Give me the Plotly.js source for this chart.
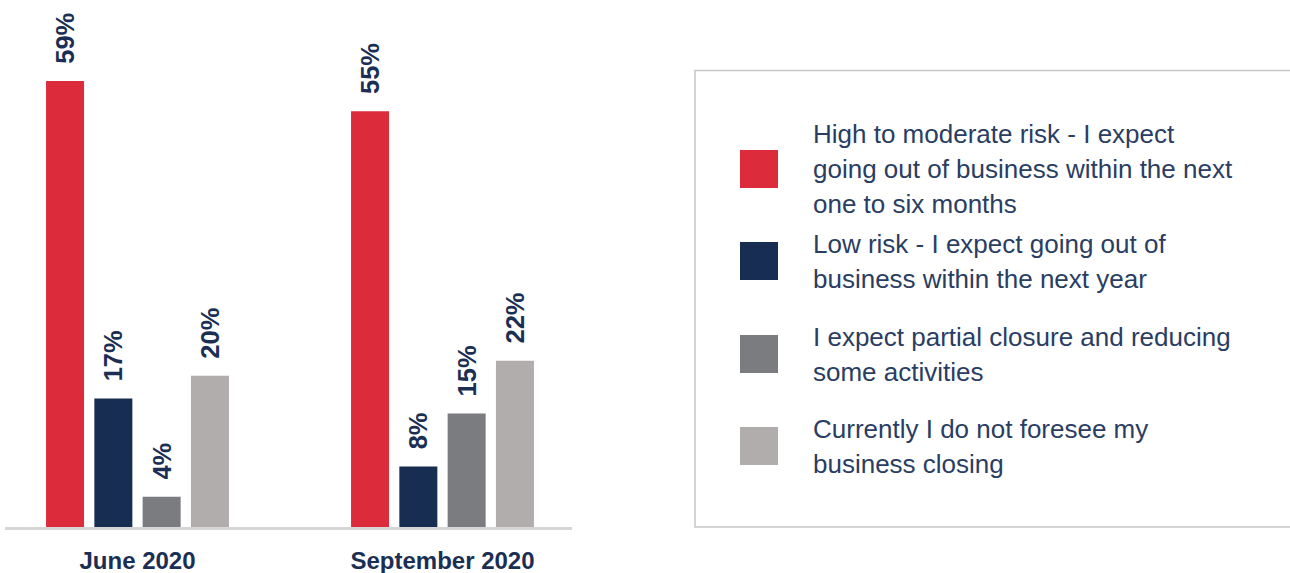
<!DOCTYPE html>
<html>
<head>
<meta charset="utf-8">
<script src="https://cdn.plot.ly/plotly-3.0.1.min.js"></script>
<style>html,body{margin:0;padding:0;background:#fff;}#chart{width:1290px;height:573px;}</style>
</head>
<body>
<div id="chart"></div>
<script>
// ---- data ----
const categories = ["June 2020", "September 2020"];
const seriesNames = [
  "High to moderate risk - I expect<br>going out of business within the next<br>one to six months",
  "Low risk - I expect going out of<br>business within the next year",
  "I expect partial closure and reducing<br>some activities",
  "Currently I do not foresee my<br>business closing"
];
const highRisk = [59, 55];
const lowRisk = [17, 8];
const partialClosure = [4, 15];
const noClosure = [20, 22];
const seriesColors = ["#dc2b3b", "#172d52", "#7b7c80", "#b0adac"];

const seriesValues = [highRisk, lowRisk, partialClosure, noClosure];
const W = 1290, H = 573;
const navy = "#1b2e54";
const font = "'Liberation Sans', Arial, Helvetica, sans-serif";

const traces = seriesValues.map((vals, i) => ({
  type: "bar",
  x: categories,
  y: vals,
  name: seriesNames[i],
  marker: {color: seriesColors[i]},
  text: vals.map(v => "\u00a0\u00a0" + v + "%"),
  textposition: "outside",
  textangle: -90,
  constraintext: "none",
  cliponaxis: false,
  textfont: {family: font, size: 25.5, color: navy, weight: "bold"},
  hoverinfo: "skip",
  showlegend: false
}));

// custom legend (box, swatches, labels)
const legendCenters = [169, 261, 354, 446];
const lineStep = 35;
const shapes = [{
  type: "rect", xref: "paper", yref: "paper",
  x0: 695 / W, x1: 1300 / W, y0: 1 - 527 / H, y1: 1 - 70.5 / H,
  line: {color: "#c6c6c6", width: 1.5}, fillcolor: "rgba(0,0,0,0)"
}];
const annotations = [];
seriesNames.forEach((name, i) => {
  const cy = legendCenters[i];
  shapes.push({
    type: "rect", xref: "paper", yref: "paper",
    x0: 740 / W, x1: 778 / W, y0: 1 - (cy + 19) / H, y1: 1 - (cy - 19) / H,
    line: {width: 0}, fillcolor: seriesColors[i]
  });
  const lines = name.split("<br>");
  lines.forEach((ln, k) => {
    const ly = cy + (k - (lines.length - 1) / 2) * lineStep;
    annotations.push({
      xref: "paper", yref: "paper", x: 811 / W, y: 1 - ly / H,
      xanchor: "left", yanchor: "middle", align: "left",
      text: ln, showarrow: false,
      font: {family: font, size: 26, color: "#2a3d62"}
    });
  });
});

const layout = {
  width: W, height: H,
  margin: {l: 0, r: 0, t: 0, b: 0},
  paper_bgcolor: "#fff", plot_bgcolor: "#fff",
  barmode: "group",
  bargap: 0.3666,
  bargroupgap: 0.213,
  showlegend: false,
  xaxis: {
    domain: [5 / W, 572 / W],
    range: [-0.4344, 1.4246],
    type: "category",
    showline: true, linecolor: "#d6d6d6", linewidth: 3,
    showgrid: false, zeroline: false, ticks: "",
    ticklabelstandoff: 10,
    tickfont: {family: font, size: 24, color: navy, weight: "bold"},
    fixedrange: true
  },
  yaxis: {
    domain: [1 - 527 / H, 1],
    range: [0, 527 / 7.56],
    visible: false, showgrid: false, zeroline: false,
    fixedrange: true
  },
  shapes: shapes,
  annotations: annotations
};

Plotly.newPlot("chart", traces, layout, {displayModeBar: false, staticPlot: true});
</script>
</body>
</html>
